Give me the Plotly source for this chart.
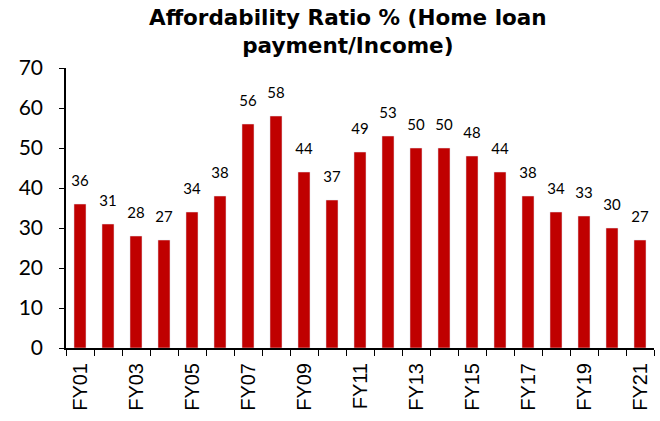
import plotly.graph_objects as go

years = ["FY01", "FY02", "FY03", "FY04", "FY05", "FY06", "FY07", "FY08", "FY09", "FY10", "FY11",
         "FY12", "FY13", "FY14", "FY15", "FY16", "FY17", "FY18", "FY19", "FY20", "FY21"]
ratio = [36, 31, 28, 27, 34, 38, 56, 58, 44, 37, 49, 53, 50, 50, 48, 44, 38, 34, 33, 30, 27]
shown_labels = years[::2]

fig = go.Figure()
fig.add_trace(go.Bar(x=years, y=ratio, marker_color="#C00000", width=0.43,
                     hoverinfo="x+y"))
# value labels, lifted above each bar by a transparent marker
fig.add_trace(go.Scatter(
    x=years, y=ratio, mode="markers+text", text=[str(v) for v in ratio],
    textposition="top center", cliponaxis=False,
    marker=dict(size=22, opacity=0), hoverinfo="skip",
    textfont=dict(family="Lato, sans-serif", size=15, color="black"),
))
# invisible trace to carry the labelled overlay axis
fig.add_trace(go.Scatter(x=years, y=ratio, xaxis="x2", mode="none",
                         showlegend=False, hoverinfo="skip"))

fig.add_annotation(
    text="<b>Affordability Ratio % (Home loan<br>payment/Income)</b>",
    xref="paper", yref="paper", x=0.479, y=1.0, yshift=65,
    xanchor="center", yanchor="top", showarrow=False, align="center",
    font=dict(family="DejaVu Sans, sans-serif", size=21.5, color="black"),
)

fig.update_layout(
    width=660, height=421,
    margin=dict(l=66, r=6, t=68, b=73),
    paper_bgcolor="white", plot_bgcolor="white",
    showlegend=False,
    yaxis=dict(range=[0, 70], dtick=10, showgrid=False, zeroline=False,
               showline=True, linecolor="black", linewidth=1.5,
               ticks="outside", ticklen=5, tickcolor="black",
               ticklabelstandoff=12,
               tickfont=dict(family="Lato, sans-serif", size=21, color="black")),
    xaxis=dict(type="category", showgrid=False, showline=True, linecolor="black",
               linewidth=1.5, ticks="outside", ticklen=6, tickcolor="black",
               tickson="boundaries", showticklabels=False, range=[-0.5, 20.5]),
    xaxis2=dict(type="category", overlaying="x", matches="x", side="bottom",
                showgrid=False, showline=False, ticks="", tickmode="array",
                tickvals=shown_labels, ticktext=shown_labels, tickangle=-90,
                ticklabelstandoff=10,
                tickfont=dict(family="Liberation Sans, Arial, sans-serif", size=20, color="black")),
)

fig.write_html("out.html")
